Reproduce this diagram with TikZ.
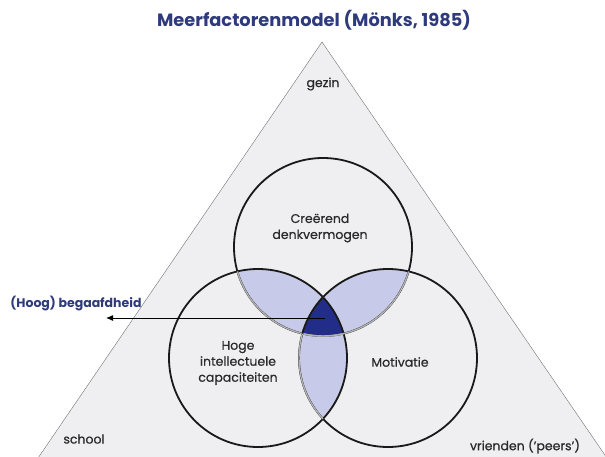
\documentclass[tikz,border=0pt]{standalone}
\usepackage{fontspec}
\setmainfont{Poppins}
\newfontfamily\lblfont[FakeBold=0.6]{Poppins}
\usetikzlibrary{arrows.meta}
\definecolor{navy}{HTML}{2E3A7C}
\definecolor{lens}{HTML}{C7CAE8}
\definecolor{core}{HTML}{222D8A}
\definecolor{bg}{HTML}{EFEEF0}
\definecolor{txt}{HTML}{2A2A2A}
\begin{document}
\begin{tikzpicture}[x=1pt,y=-1pt,
  lbl/.style={font=\lblfont\fontsize{12.5}{16}\selectfont, text=txt, align=center},
  ring/.style={line width=1.8pt, draw=black!90},
  faint/.style={line width=1.4pt, draw=black!30}]
\useasboundingbox (0,0) rectangle (605,457);
\coordinate (T) at (323,247);
\coordinate (L) at (258,358);
\coordinate (R) at (388,358);
\def\rad{89pt}
% triangle
\begin{scope}
  \clip (0,0) rectangle (605,457);
  \draw[fill=bg, draw=black!55, line width=0.4pt] (322,42) -- (36,461) -- (609,461) -- cycle;
\end{scope}
% pairwise lenses
\begin{scope}\clip (T) circle[radius=\rad]; \fill[lens] (L) circle[radius=\rad]; \fill[lens] (R) circle[radius=\rad];\end{scope}
\begin{scope}\clip (L) circle[radius=\rad]; \fill[lens] (R) circle[radius=\rad];\end{scope}
% core
\begin{scope}\clip (T) circle[radius=\rad]; \clip (L) circle[radius=\rad]; \fill[core] (R) circle[radius=\rad];\end{scope}
% outlines
\draw[ring] (T) circle[radius=\rad];
\draw[ring] (L) circle[radius=\rad];
\draw[ring] (R) circle[radius=\rad];
% faint arcs
\begin{scope}\clip (L) circle[radius=\rad]; \draw[faint] (R) circle[radius=\rad];\end{scope}
\begin{scope}\clip (L) circle[radius=\rad]; \draw[faint] (T) circle[radius=\rad];\end{scope}
\begin{scope}\clip (R) circle[radius=\rad]; \draw[faint] (T) circle[radius=\rad];\end{scope}
\begin{scope}\clip (T) circle[radius=\rad]; \clip (L) circle[radius=\rad]; \draw[ring] (R) circle[radius=\rad];\end{scope}
% texts
\node[font=\fontsize{17.8}{20}\selectfont\bfseries, text=navy] (title) at (314,20) {Meerfactorenmodel (Mönks, 1985)};
\node[lbl] (gezin) at (323,84) {gezin};
\node[lbl] (creer) at (320,228) {Creërend\\denkvermogen};
\node[lbl] (hoge) at (238,363) {Hoge\\intellectuele\\capaciteiten};
\node[lbl] (motiv) at (400,362) {Motivatie};
\node[lbl] (school) at (84,439) {school};
\node[lbl] (vrienden) at (525,446) {vrienden (’peers’)};
\node[font=\fontsize{12.5}{14}\selectfont\bfseries, text=navy] (beg) at (76,304) {(Hoog) begaafdheid};
\coordinate (src) at (325,318);
\coordinate (tip) at (106,318);
\draw[line width=1pt, -{Latex[length=7pt,width=6pt]}] (src) -- (tip);
\end{tikzpicture}
\end{document}
